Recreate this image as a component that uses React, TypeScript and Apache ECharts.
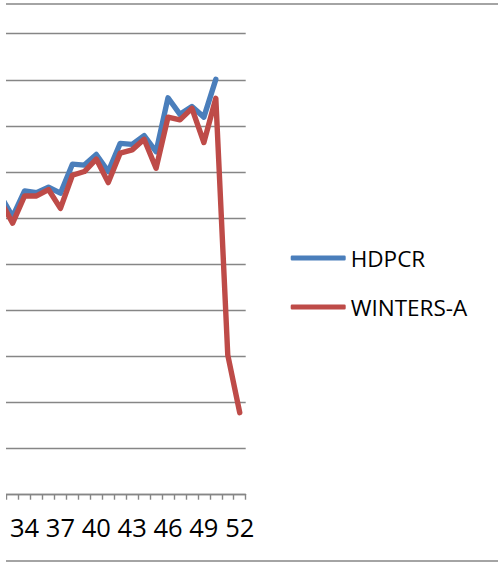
import React, { useEffect, useRef } from "react";
import * as echarts from "echarts";

const categories = ["32","33","34","35","36","37","38","39","40","41","42","43","44","45","46","47","48","49","50","51","52"];
const hdpcr = [64.8,60.3,65.9,65.5,66.7,65.4,71.7,71.5,73.8,70.1,76.2,76.0,77.9,74.4,86.1,82.5,84.2,81.9,90.1,null,null];
const wintersA = [63.7,58.9,64.8,64.8,66.2,62.1,69.3,70.1,72.8,67.7,74.1,74.8,77.1,70.8,81.9,81.3,83.8,76.4,86.0,30.3,17.8];
const seriesNames = ["HDPCR", "WINTERS-A"];

const W = 498;
const H = 562;
const OX = 20; // chart canvas is shifted left by this amount
const CW = W + OX;
const FONT = "'Open Sans', 'Noto Sans', sans-serif";

export default function App() {
  const ref = useRef<HTMLDivElement>(null);
  useEffect(() => {
    if (!ref.current) return;
    const chart = echarts.init(ref.current, undefined, { renderer: "svg" });
    const grey = "#868686";
    chart.setOption({
      animation: false,
      backgroundColor: "#ffffff",
      grid: { left: OX - 5.3, right: CW - (245.7 + OX), top: 33.7, bottom: H - 494.7, containLabel: false },
      xAxis: {
        type: "category",
        data: categories,
        boundaryGap: true,
        axisLine: { show: true, lineStyle: { color: grey, width: 1.4 } },
        axisTick: { show: true, interval: 0, length: 5, lineStyle: { color: grey, width: 1.4 } },
        axisLabel: {
          interval: (idx: number, val: string) => (Number(val) - 34) % 3 === 0,
          color: "#000",
          fontFamily: FONT,
          fontSize: 25.5,
          margin: 19,
        },
        splitLine: { show: false },
      },
      yAxis: {
        type: "value",
        min: 0,
        max: 100,
        interval: 10,
        axisLine: { show: false },
        axisTick: { show: false },
        axisLabel: { show: false },
        splitLine: { show: true, lineStyle: { color: grey, width: 1.4 } },
      },
      legend: {
        orient: "vertical",
        left: 290.7 + OX,
        top: 246.5,
        icon: "roundRect",
        itemWidth: 55,
        itemHeight: 5,
        itemGap: 26,
        data: seriesNames,
        textStyle: { color: "#000", fontFamily: FONT, fontSize: 22.5, padding: [0, 0, 0, 0] },
        padding: 0,
      },
      series: [
        {
          name: seriesNames[0],
          type: "line",
          data: hdpcr,
          symbol: "none",
          color: "#4A7EBB",
          lineStyle: { color: "#4A7EBB", width: 5.4, cap: "round", join: "round" },
        },
        {
          name: seriesNames[1],
          type: "line",
          data: wintersA,
          symbol: "none",
          color: "#BE4B48",
          lineStyle: { color: "#BE4B48", width: 5.4, cap: "round", join: "round" },
        },
      ],
      graphic: [
        { type: "rect", z: 100, shape: { x: 0, y: 0, width: OX + 6, height: H }, style: { fill: "#ffffff" } },
        { type: "line", z: 101, shape: { x1: OX + 6, y1: 4, x2: CW, y2: 4 }, style: { stroke: grey, lineWidth: 1.6 } },
        { type: "line", z: 101, shape: { x1: OX + 6, y1: 561, x2: CW, y2: 561 }, style: { stroke: grey, lineWidth: 1.6 } },
      ],
    });
    return () => chart.dispose();
  }, []);
  return (
    <div
      ref={ref}
      style={{ position: "absolute", left: -OX, top: 0, width: CW, height: H }}
    />
  );
}
